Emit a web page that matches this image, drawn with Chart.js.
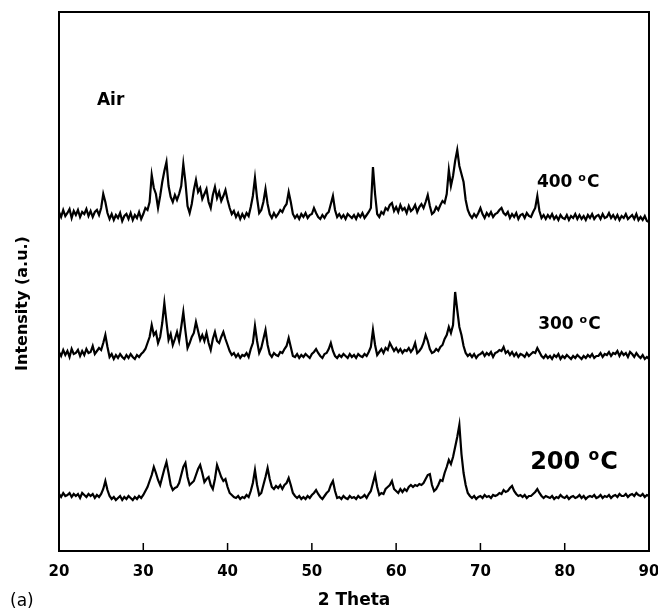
<!DOCTYPE html>
<html>
<head>
<meta charset="utf-8">
<script src="https://cdn.jsdelivr.net/npm/chart.js@4.4.1/dist/chart.umd.min.js"></script>
<style>
  html, body { margin: 0; padding: 0; background: #fff; }
  canvas { display: block; }
</style>
</head>
<body>
<canvas id="xrd" width="658" height="613"></canvas>
<script>
// 2 theta sampling grid of the scans
const twoThetaStart = 20
const twoThetaStep = 0.25

const xTicks = [20, 30, 40, 50, 60, 70, 80, 90]

// intensities (a.u.) above each pattern's own baseline, one value per 0.25 deg
const xrd400 = [
  4, -1, 6, 0, 3, 7, -2, 5, 1, 6, -1, 4, 2, 7, 0, 5, -1, 4, 6, 1,
  8, 22, 14, 3, -3, 2, -4, 1, -2, 3, -5, 0, 2, -3, 3, -4, 1, -2, 4, -3,
  2, 8, 6, 14, 41, 28, 22, 8, 20, 34, 45, 54, 30, 19, 14, 21, 16, 22, 30, 52,
  34, 10, 3, 12, 26, 36, 24, 28, 17, 22, 27, 14, 8, 21, 29, 18, 24, 15, 20, 26,
  16, 8, 2, 5, -1, 3, -3, 2, -2, 3, 0, 9, 20, 38, 18, 3, 6, 14, 27, 12,
  2, -2, 3, -1, 2, 6, 4, 9, 12, 24, 14, 2, -2, 1, -3, 2, -1, 3, -2, 1,
  2, 8, 3, -1, -3, 1, -2, 2, 4, 12, 20, 6, -1, 2, -2, 1, -3, 2, 0, -2,
  1, -3, 2, -1, 3, -2, 1, 4, 8, 49, 22, 2, -1, 4, 2, 8, 6, 11, 13, 5,
  9, 4, 11, 6, 8, 3, 10, 5, 7, 11, 4, 9, 12, 8, 14, 21, 10, 2, 4, 9,
  6, 11, 15, 13, 22, 46, 30, 40, 55, 66, 50, 42, 34, 16, 6, 1, -2, 2, -1, 3,
  8, 2, -2, 3, 0, 4, -1, 2, 3, 6, 8, 3, 1, 4, -2, 2, -1, 3, -3, 1,
  2, -2, 3, 0, -1, 4, 8, 20, 5, -2, 1, -3, 1, -2, 2, -3, 0, -4, 1, -2,
  -3, 1, -4, 0, -2, 2, -3, 1, -3, 0, -4, 1, -2, 2, -3, 0, 1, -3, 2, -2,
  -1, 3, -2, 1, -3, 1, -4, 0, -2, 2, -3, -1, 1, -3, 2, -4, -1, -4, 0, -5,
  -6
]

const xrd300 = [
  3, -1, 5, 0, 4, -2, 6, 1, 2, 5, -1, 4, 0, 6, 2, 3, 9, 1, 4, 7,
  5, 12, 20, 8, -2, 1, -4, 0, -3, 1, -2, -4, 0, -3, 1, -2, -4, 0, -2, 1,
  3, 6, 12, 18, 30, 20, 23, 12, 18, 32, 52, 33, 15, 21, 10, 16, 23, 14, 28, 43,
  24, 7, 12, 18, 22, 33, 24, 15, 20, 14, 22, 12, 5, 16, 23, 14, 12, 18, 23, 16,
  10, 4, 0, 2, -2, 1, -3, 0, -1, 2, -2, 6, 12, 29, 14, 2, 7, 16, 25, 10,
  1, -2, 2, 0, -1, 3, 2, 6, 9, 17, 8, -1, -2, 1, -3, 0, -2, 1, -1, -3,
  1, 3, 6, 2, -1, -3, 1, 2, 6, 12, 4, -1, -3, 0, -2, 1, -1, -3, 1, -2,
  0, -3, 1, -1, -2, 1, -1, 3, 8, 25, 10, 0, 3, 6, 2, 7, 5, 12, 8, 4,
  7, 3, 6, 2, 5, 4, 7, 3, 6, 12, 2, 4, 7, 12, 20, 14, 6, 2, 3, 6,
  4, 8, 10, 16, 20, 28, 22, 30, 63, 45, 28, 20, 9, 2, -1, 1, -2, 1, -3, 0,
  1, 3, -1, 2, 0, 3, -2, 2, 3, 5, 4, 8, 2, 4, 0, 3, -1, 2, -2, 1,
  0, -2, 2, -1, 1, 3, 2, 7, 3, -1, -3, 0, -3, -1, -4, 0, -2, 1, -4, -1,
  -3, 0, -2, -4, -1, -3, 0, -2, -4, -1, -3, 0, -2, 1, -3, -1, -1, 2, -2, 1,
  0, 3, -1, 2, 1, 4, -1, 3, 0, 2, -2, 3, 1, -2, 2, -1, -3, 0, -4, -2,
  -4
]

const xrd200 = [
  3, 0, 4, 1, 2, 4, 0, 3, 1, 3, -1, 4, 2, 0, 3, 1, 3, -1, 2, 0,
  3, 8, 16, 7, 1, -2, 0, -3, -1, 1, -3, 0, -2, 1, -1, -3, 0, -2, 1, -1,
  2, 6, 10, 16, 22, 30, 24, 17, 12, 20, 28, 35, 24, 12, 7, 9, 10, 14, 22, 30,
  34, 20, 12, 14, 16, 22, 28, 32, 24, 15, 18, 20, 12, 8, 18, 32, 26, 20, 16, 18,
  10, 4, 2, 0, -1, 1, -2, 0, -1, 2, 0, 6, 14, 27, 12, 2, 4, 12, 20, 29,
  18, 10, 8, 11, 9, 12, 8, 12, 14, 19, 12, 4, 1, -1, 1, -2, 0, -2, 1, -1,
  2, 4, 7, 3, 0, -2, 1, 4, 6, 12, 16, 6, -1, 0, -2, 1, -1, -2, 1, -1,
  0, -2, 1, -1, 0, 2, -1, 3, 6, 14, 22, 10, 2, 4, 3, 8, 10, 12, 16, 8,
  6, 4, 8, 5, 8, 6, 10, 12, 10, 12, 11, 13, 12, 14, 18, 22, 23, 12, 6, 8,
  12, 17, 16, 24, 30, 37, 33, 40, 50, 60, 72, 43, 24, 12, 4, 1, -1, 1, -2, 0,
  1, -1, 2, 0, 1, -1, 2, 1, 2, 4, 3, 7, 5, 6, 9, 11, 6, 3, 1, 2,
  0, 2, -1, 1, 1, 3, 5, 8, 4, 1, -1, 1, 0, -1, 1, -2, 0, -1, 2, 0,
  -1, 1, -2, 0, 1, -1, 0, 2, -1, 1, -2, 0, 1, 0, 2, -1, 0, 2, -1, 1,
  0, 2, -1, 1, 2, 0, 3, 1, 1, 3, 0, 2, 3, 1, 4, 2, 1, 3, 0, 2,
  1
]

// vertical stacking offset of each pattern
const patterns = [xrd400, xrd300, xrd200]
const patternOffsets = [335, 196, 54]
const patternNames = ["400", "300", "200"]

// where the in-plot captions sit, in data units (2 theta, intensity)
const captions = [
  { temp: "400", x: 76.7, y: 364, size: 17 },
  { temp: "300", x: 76.85, y: 222, size: 17 },
  { temp: "200", x: 75.9, y: 82, size: 24 }
]

const FONT = "'DejaVu Sans', Verdana, sans-serif"

const datasets = patterns.map((vals, k) => ({
  label: patternNames[k] + " °C",
  data: vals.map((v, i) => ({ x: twoThetaStart + i * twoThetaStep, y: v + patternOffsets[k] })),
  borderColor: "#000",
  borderWidth: 2.2,
  pointRadius: 0,
  tension: 0,
  fill: false
}))

// frame, inward ticks and text labels
const decorations = {
  id: "decorations",
  afterDatasetsDraw(chart) {
    const { ctx, chartArea: a, scales: { x, y } } = chart
    ctx.save()
    ctx.strokeStyle = "#000"
    ctx.lineWidth = 2
    ctx.strokeRect(a.left, a.top, a.right - a.left, a.bottom - a.top)

    ctx.lineWidth = 1.5
    xTicks.forEach(t => {
      const px = x.getPixelForValue(t)
      ctx.beginPath()
      ctx.moveTo(px, a.bottom)
      ctx.lineTo(px, a.bottom - 8)
      ctx.stroke()
    })

    ctx.fillStyle = "#000"
    ctx.textBaseline = "alphabetic"
    ctx.textAlign = "left"

    ctx.font = "bold 17px " + FONT
    ctx.fillText("Air", x.getPixelForValue(24.5), y.getPixelForValue(446))

    captions.forEach(c => {
      let px = x.getPixelForValue(c.x)
      const py = y.getPixelForValue(c.y)
      const small = c.size * 0.65
      ctx.font = "bold " + c.size + "px " + FONT
      ctx.fillText(c.temp + " ", px, py)
      px += ctx.measureText(c.temp + " ").width
      ctx.font = "bold " + small + "px " + FONT
      ctx.fillText("o", px, py - c.size * 0.37)
      px += ctx.measureText("o").width + 1
      ctx.font = "bold " + c.size + "px " + FONT
      ctx.fillText("C", px, py)
    })

    // y axis title, sits a bit below the plot centre in the original
    ctx.save()
    ctx.translate(27, 303.5)
    ctx.rotate(-Math.PI / 2)
    ctx.textAlign = "center"
    ctx.font = "bold 16px " + FONT
    ctx.fillText("Intensity (a.u.)", 0, 0)
    ctx.restore()

    ctx.font = "17px " + FONT
    ctx.textBaseline = "middle"
    ctx.fillText("(a)", 10, 602)
    ctx.restore()
  }
}

new Chart(document.getElementById("xrd"), {
  type: "line",
  data: { datasets },
  options: {
    responsive: false,
    animation: false,
    events: [],
    layout: { padding: { left: 0, right: 9, top: 12, bottom: 0 } },
    plugins: { legend: { display: false }, tooltip: { enabled: false } },
    scales: {
      x: {
        type: "linear",
        min: 20,
        max: 90,
        grid: { display: false },
        border: { display: false },
        afterBuildTicks: s => { s.ticks = xTicks.map(v => ({ value: v })) },
        ticks: {
          padding: 4,
          color: "#000",
          font: { family: FONT, weight: "bold", size: 15 }
        },
        title: {
          display: true,
          text: "2 Theta",
          color: "#000",
          font: { family: FONT, weight: "bold", size: 17 },
          padding: { top: 0, bottom: 2 }
        },
        afterFit: s => {
          s.height = 62
          s.paddingLeft = 0
          s.paddingRight = 0
        }
      },
      y: {
        min: 0,
        max: 539,
        grid: { display: false },
        border: { display: false },
        ticks: { display: false },
        title: { display: false },
        afterFit: s => { s.width = 59 }
      }
    }
  },
  plugins: [decorations]
})
</script>
</body>
</html>
